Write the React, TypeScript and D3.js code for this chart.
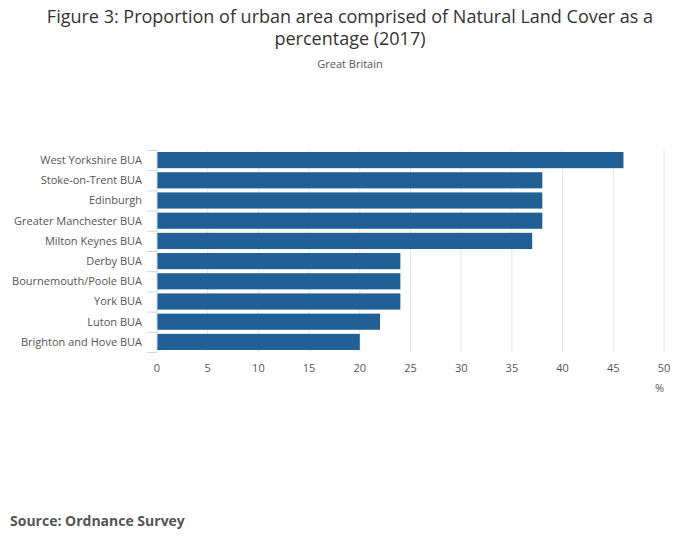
import * as d3 from "d3";

const categories = [
  "West Yorkshire BUA",
  "Stoke-on-Trent BUA",
  "Edinburgh",
  "Greater Manchester BUA",
  "Milton Keynes BUA",
  "Derby BUA",
  "Bournemouth/Poole BUA",
  "York BUA",
  "Luton BUA",
  "Brighton and Hove BUA",
];
const values = [46, 38, 38, 38, 37, 24, 24, 24, 22, 20];
const xTicks = [0, 5, 10, 15, 20, 25, 30, 35, 40, 45, 50];

export default function App() {
  const W = 700, H = 549;
  const left = 157, right = 664, top = 150, bottom = 352;
  const x = d3.scaleLinear().domain([0, 50]).range([left, right]);
  const y = d3.scaleBand<string>().domain(categories).range([top, bottom]).paddingInner(0.2).paddingOuter(0.1);
  const step = y.step();
  const font = "'Open Sans', 'Noto Sans', sans-serif";
  return (
    <svg width={W} height={H} style={{ position: "absolute", left: 0, top: 0, fontFamily: font }}>
      <rect width={W} height={H} fill="#fff" />
      <text x={350} y={23} textAnchor="middle" fontSize={18} fill="#333">
        Figure 3: Proportion of urban area comprised of Natural Land Cover as a
      </text>
      <text x={350} y={45} textAnchor="middle" fontSize={18} fill="#333">percentage (2017)</text>
      <text x={350} y={68} textAnchor="middle" fontSize={11} fill="#555">Great Britain</text>
      {xTicks.slice(1).map((t) => (
        <line key={t} x1={x(t)} x2={x(t)} y1={top} y2={bottom} stroke="#e6e6e6" strokeWidth={1} />
      ))}
      {categories.map((c, i) => (
        <g key={c}>
          <rect x={x(0)} y={y(c)!} width={x(values[i]) - x(0)} height={y.bandwidth()} fill="#206095" />
          <text x={left - 15} y={y(c)! + y.bandwidth() / 2} dy="0.35em" textAnchor="end" fontSize={11} fill="#555">{c}</text>
        </g>
      ))}
      {d3.range(categories.length + 1).map((i) => (
        <line key={i} x1={left - 10} x2={left} y1={top + i * step + 0.5} y2={top + i * step + 0.5} stroke="#ccd6eb" />
      ))}
      <line x1={left} x2={left} y1={top} y2={bottom} stroke="#ccd6eb" />
      {xTicks.map((t) => (
        <text key={t} x={x(t)} y={372} textAnchor="middle" fontSize={11} fill="#555">{t}</text>
      ))}
      <text x={664} y={392} textAnchor="end" fontSize={11} fill="#555">%</text>
      <text x={10} y={526} fontSize={14} fontWeight="bold" fill="#555">Source: Ordnance Survey</text>
    </svg>
  );
}
